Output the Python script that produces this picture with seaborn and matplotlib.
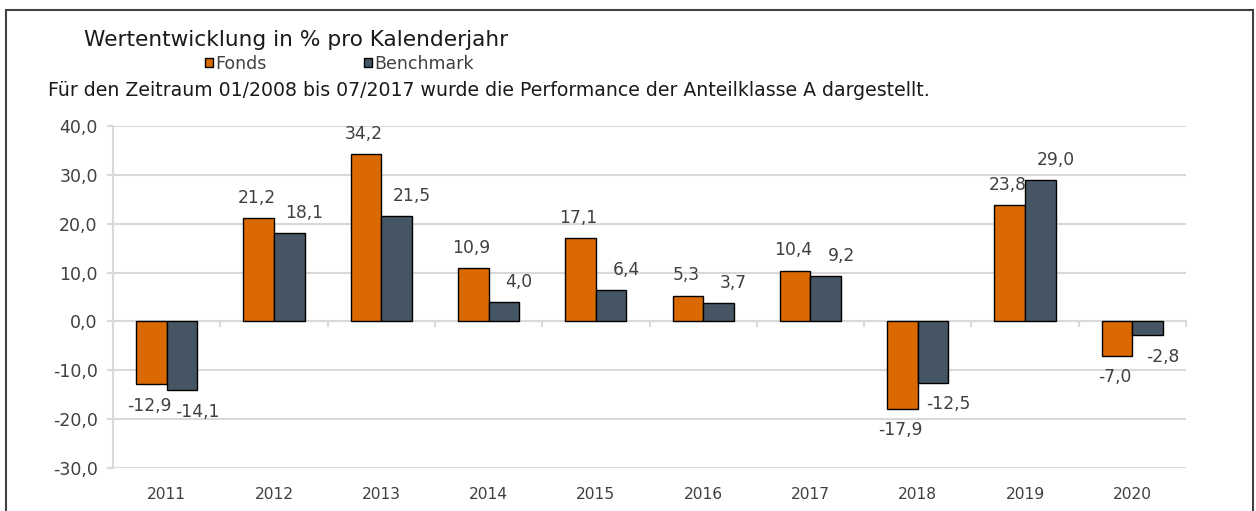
import numpy as np
import pandas as pd
import matplotlib
matplotlib.use("Agg")
import matplotlib.pyplot as plt
from matplotlib.patches import Rectangle
import seaborn as sns

years = ["2011", "2012", "2013", "2014", "2015", "2016", "2017", "2018", "2019", "2020"]
fonds = [-12.9, 21.2, 34.2, 10.9, 17.1, 5.3, 10.4, -17.9, 23.8, -7.0]
benchmark = [-14.1, 18.1, 21.5, 4.0, 6.4, 3.7, 9.2, -12.5, 29.0, -2.8]
series_names = ["Fonds", "Benchmark"]
colors = ["#D96900", "#465563"]
y_ticks = [-30, -20, -10, 0, 10, 20, 30, 40]

title = "Wertentwicklung in % pro Kalenderjahr"
subtitle = "Für den Zeitraum 01/2008 bis 07/2017 wurde die Performance der Anteilklasse A dargestellt."

df = pd.DataFrame({
    "Jahr": years * 2,
    "Wert": fonds + benchmark,
    "Serie": [series_names[0]] * len(years) + [series_names[1]] * len(years),
})

sns.set_style("white")
plt.rcParams["font.family"] = ["DejaVu Sans"]

W, H = 1256, 511
fig = plt.figure(figsize=(W / 100, H / 100), dpi=100)
ax = fig.add_axes([113 / W, 1 - 468 / H, (1186 - 113) / W, (468 - 126) / H])

sns.barplot(data=df, x="Jahr", y="Wert", hue="Serie", palette=colors,
            width=0.57, edgecolor="black", linewidth=1, saturation=1, ax=ax,
            zorder=3)

ymin, ymax = -30, 40
ax.set_ylim(ymin, ymax)
ax.set_xlim(-0.5, len(years) - 0.5)
ax.set_yticks(y_ticks)
ax.set_yticklabels([f"{v:.1f}".replace(".", ",") for v in y_ticks])
ax.grid(axis="y", color="#d9d9d9", linewidth=1.5, zorder=0)
ax.set_axisbelow(True)
for s in ["top", "right", "bottom"]:
    ax.spines[s].set_visible(False)
ax.spines["left"].set_color("#d9d9d9")
ax.spines["left"].set_linewidth(1.5)
ax.tick_params(axis="y", length=4, width=1.5, color="#d9d9d9", pad=7,
               labelsize=12.5, labelcolor="#404040", left=True)
ax.tick_params(axis="x", length=0, pad=14, labelsize=11.2, labelcolor="#404040")
ax.set_xlabel("")
ax.set_ylabel("")

# category axis crossing at zero
secax = ax.secondary_xaxis((0 - ymin) / (ymax - ymin))
secax.set_xticks(np.arange(len(years) + 1) - 0.5)
secax.set_xticklabels([])
secax.tick_params(axis="x", length=4, width=1.5, color="#d9d9d9", direction="out")
secax.spines["bottom"].set_color("#d9d9d9")
secax.spines["bottom"].set_linewidth(1.5)

# data labels
offsets_x = [-1.5, 11]
for ci, cont in enumerate(ax.containers):
    for bar in cont:
        h = bar.get_height()
        xc = bar.get_x() + bar.get_width() / 2
        dy = 14.5 if h >= 0 else -15.5
        ax.annotate(f"{h:.1f}".replace(".", ","), xy=(xc, h),
                    xytext=(offsets_x[ci], dy), textcoords="offset points",
                    ha="center", va="center", fontsize=12.3, color="#404040")

sns.move_legend(ax, loc="center left", bbox_to_anchor=(205 / W, 1 - 64 / H),
                bbox_transform=fig.transFigure, ncol=2, frameon=False, title=None,
                handlelength=0.45, handleheight=0.45, handletextpad=0.15,
                columnspacing=5.6, fontsize=12.5, borderpad=0, borderaxespad=0)
for t in ax.get_legend().get_texts():
    t.set_color("#404040")

fig.text(84 / W, 1 - 40 / H, title, fontsize=15.6, va="center", ha="left", color="#1a1a1a")
fig.text(48 / W, 1 - 90 / H, subtitle, fontsize=13.6, va="center", ha="left", color="#1a1a1a")

fig.patches.append(Rectangle((6 / W, -0.1), (1253 - 6) / W, 1.1 - 10 / H,
                             fill=False, edgecolor="#404040", linewidth=1.5,
                             transform=fig.transFigure, figure=fig))

fig.savefig("out.png", dpi=100, facecolor="white")
